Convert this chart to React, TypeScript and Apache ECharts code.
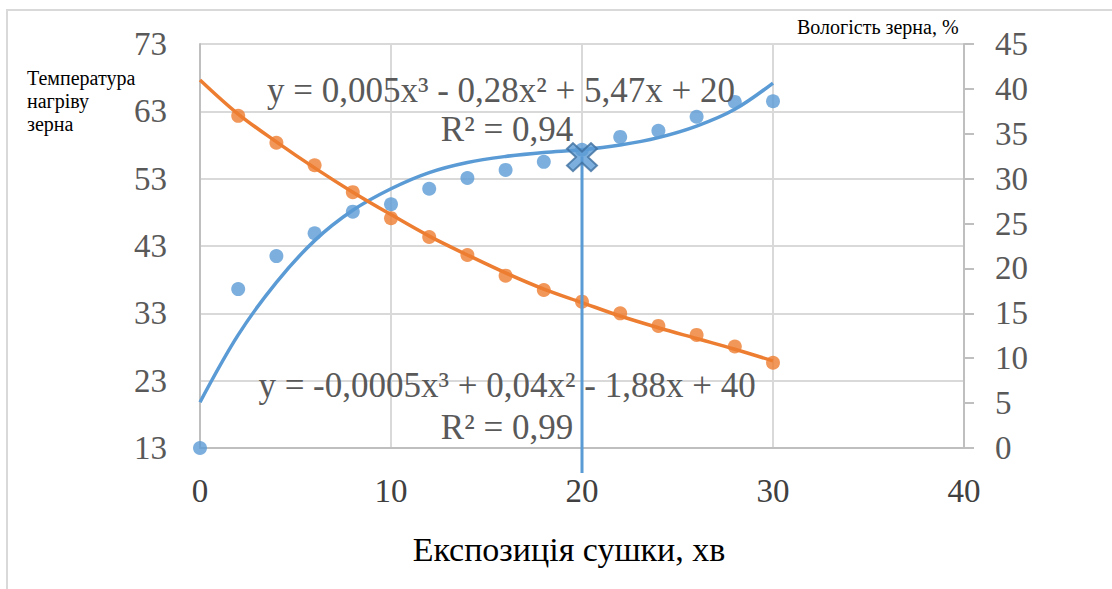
import React, { useEffect, useRef } from "react";
import * as echarts from "echarts";

// Exposure time (minutes)
const minutes = [0, 2, 4, 6, 8, 10, 12, 14, 16, 18, 20, 22, 24, 26, 28, 30];
// Grain heating temperature (left axis)
const temperature = [13.0, 36.6, 41.5, 44.9, 48.1, 49.2, 51.5, 53.1, 54.3, 55.5, 57.3, 59.2, 60.1, 62.2, 64.4, 64.5];
// Temperature trend line (left axis)
const temperatureTrend = [19.8, 29.8, 37.6, 43.8, 48.3, 51.5, 53.9, 55.4, 56.3, 56.9, 57.3, 58.0, 59.1, 60.8, 63.3, 67.2];
// Grain moisture (right axis), first point missing
const moistureMinutes = [2, 4, 6, 8, 10, 12, 14, 16, 18, 20, 22, 24, 26, 28, 30];
const moisture = [37.0, 34.0, 31.5, 28.5, 25.6, 23.5, 21.5, 19.2, 17.6, 16.3, 15.0, 13.6, 12.6, 11.3, 9.5];
// Moisture trend line (right axis)
const moistureTrend = [41.0, 37.2, 34.1, 31.2, 28.5, 26.0, 23.6, 21.5, 19.5, 17.7, 16.2, 14.7, 13.4, 12.2, 11.0, 9.7];
// Highlighted point with drop line
const markerX = 20;
const markerY = 56.2;
const markerDropTo = 9.3;

const leftMin = 13;
const leftMax = 73;
const leftStep = 10;
const rightMin = 0;
const rightMax = 45;
const rightStep = 5;
const xMin = 0;
const xMax = 40;
const xStep = 10;

const eqTop = "y = 0,005x³ - 0,28x² + 5,47x + 20";
const r2Top = "R² = 0,94";
const eqBottom = "y = -0,0005x³ + 0,04x² - 1,88x + 40";
const r2Bottom = "R² = 0,99";
const xTitle = "Експозиція сушки, хв";
const leftTitle = "Температура\nнагріву\nзерна";
const rightTitle = "Вологість зерна, %";

const FONT = "'Liberation Serif', 'Times New Roman', serif";
const BLUE = "#5b9bd5";
const ORANGE = "#ed7d31";
const GRID = "#d9d9d9";
const AXIS = "#bfbfbf";
const LABEL = "#595959";

export default function App() {
  const ref = useRef<HTMLDivElement>(null);

  useEffect(() => {
    if (!ref.current) return;
    const chart = echarts.init(ref.current, null, { renderer: "svg" });
    const shift = (v: number) => v - leftMin;

    const option: any = {
      animation: false,
      backgroundColor: "#ffffff",
      textStyle: { fontFamily: FONT },
      grid: { left: 200, right: 148, top: 44, bottom: 141, containLabel: false },
      xAxis: {
        type: "value",
        min: xMin,
        max: xMax,
        interval: xStep,
        axisLine: { show: true, lineStyle: { color: AXIS, width: 2 } },
        axisTick: { show: false },
        splitLine: { show: true, lineStyle: { color: GRID, width: 2 } },
        axisLabel: { color: "#404040", fontSize: 33, fontFamily: FONT, margin: 26 },
      },
      yAxis: [
        {
          type: "value",
          min: 0,
          max: leftMax - leftMin,
          interval: leftStep,
          axisLine: { show: true, lineStyle: { color: AXIS, width: 2 } },
          axisTick: { show: false },
          splitLine: { show: true, lineStyle: { color: GRID, width: 2 } },
          axisLabel: {
            color: LABEL,
            fontSize: 33,
            fontFamily: FONT,
            margin: 33,
            formatter: (v: number) => String(v + leftMin),
          },
        },
        {
          type: "value",
          min: rightMin,
          max: rightMax,
          interval: rightStep,
          position: "right",
          axisLine: { show: true, lineStyle: { color: AXIS, width: 2 } },
          axisTick: { show: true, length: 10, lineStyle: { color: AXIS, width: 2 } },
          splitLine: { show: false },
          axisLabel: { color: LABEL, fontSize: 33, fontFamily: FONT, margin: 31 },
        },
      ],
      graphic: [
        {
          type: "rect",
          silent: true,
          shape: { x: 7, y: 10, width: 1400, height: 900 },
          style: { fill: "none", stroke: "#d9d9d9", lineWidth: 2 },
        },
        {
          type: "text",
          x: 27,
          y: 66,
          style: { text: leftTitle, fill: "#000", font: `20px ${FONT}`, lineHeight: 23 },
        },
        {
          type: "text",
          x: 797,
          y: 17,
          style: { text: rightTitle, fill: "#000", font: `20px ${FONT}` },
        },
        {
          type: "text",
          x: 569,
          y: 549,
          style: { text: xTitle, fill: "#000", font: `34px ${FONT}`, align: "center", verticalAlign: "middle" },
        },
        {
          type: "text",
          x: 501,
          y: 90,
          z: 10,
          style: { text: eqTop, fill: LABEL, font: `35px ${FONT}`, align: "center", verticalAlign: "middle" },
        },
        {
          type: "text",
          x: 507,
          y: 129,
          z: 10,
          style: { text: r2Top, fill: LABEL, font: `35px ${FONT}`, align: "center", verticalAlign: "middle" },
        },
        {
          type: "text",
          x: 507,
          y: 385,
          z: 10,
          style: { text: eqBottom, fill: LABEL, font: `35px ${FONT}`, align: "center", verticalAlign: "middle" },
        },
        {
          type: "text",
          x: 507,
          y: 427,
          z: 10,
          style: { text: r2Bottom, fill: LABEL, font: `35px ${FONT}`, align: "center", verticalAlign: "middle" },
        },
      ],
      series: [
        {
          type: "scatter",
          yAxisIndex: 0,
          data: minutes.map((m, i) => [m, shift(temperature[i])]),
          symbolSize: 14,
          itemStyle: { color: BLUE },
          clip: false,
          z: 3,
        },
        {
          type: "line",
          yAxisIndex: 0,
          data: minutes.map((m, i) => [m, shift(temperatureTrend[i])]),
          smooth: 0.35,
          showSymbol: false,
          lineStyle: { color: BLUE, width: 3.5 },
          z: 4,
        },
        {
          type: "scatter",
          yAxisIndex: 1,
          data: moistureMinutes.map((m, i) => [m, moisture[i]]),
          symbolSize: 14,
          itemStyle: { color: ORANGE },
          z: 3,
        },
        {
          type: "line",
          yAxisIndex: 1,
          data: minutes.map((m, i) => [m, moistureTrend[i]]),
          smooth: 0.35,
          showSymbol: false,
          lineStyle: { color: ORANGE, width: 3.5 },
          z: 4,
        },
        {
          type: "custom",
          yAxisIndex: 0,
          clip: false,
          z: 5,
          data: [[markerX, shift(markerY), shift(markerDropTo)]],
          renderItem: (params: any, api: any) => {
            const top = api.coord([api.value(0), api.value(1)]);
            const bottom = api.coord([api.value(0), api.value(2)]);
            return {
              type: "line",
              shape: { x1: top[0], y1: top[1], x2: bottom[0], y2: bottom[1] },
              style: { stroke: BLUE, lineWidth: 3 },
            };
          },
        },
        {
          type: "scatter",
          yAxisIndex: 0,
          data: [[markerX, shift(markerY)]],
          symbol: "path://M2,0 L5,3 L8,0 L10,2 L7,5 L10,8 L8,10 L5,7 L2,10 L0,8 L3,5 L0,2 Z",
          symbolSize: [30, 28],
          itemStyle: { color: BLUE, borderColor: "#3f6f9f", borderWidth: 2 },
          z: 6,
        },
      ],
    };

    chart.setOption(option);
    return () => chart.dispose();
  }, []);

  return (
    <div
      ref={ref}
      style={{ position: "fixed", left: 0, top: 0, width: 1112, height: 589, background: "#fff" }}
    />
  );
}
